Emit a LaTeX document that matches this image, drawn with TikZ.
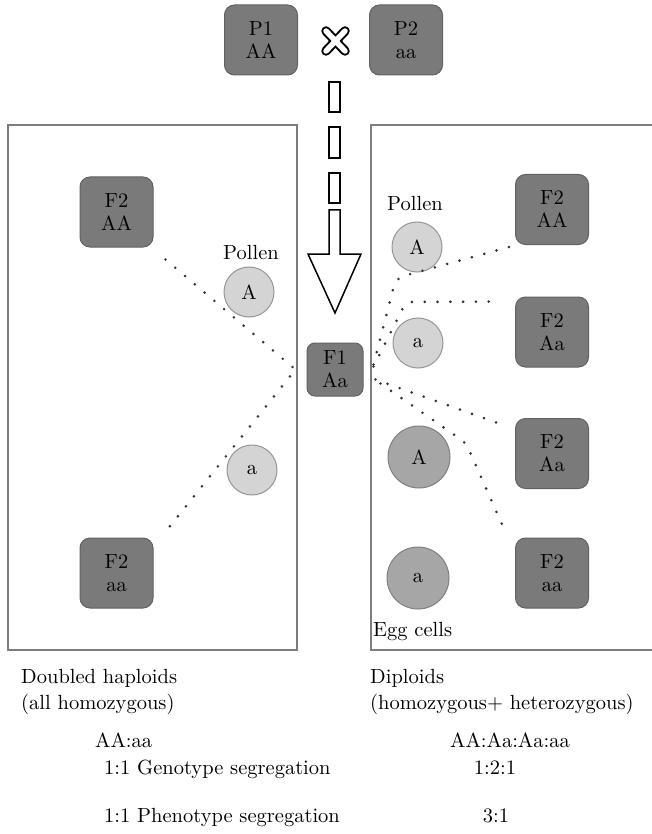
\documentclass[tikz,border=0pt]{standalone}
\usepackage{fontspec}
\setmainfont{lmroman10-regular.otf}
\usetikzlibrary{calc}
\definecolor{boxfill}{RGB}{122,122,122}
\definecolor{boxline}{RGB}{98,98,98}
\definecolor{polfill}{RGB}{212,212,212}
\definecolor{polline}{RGB}{150,150,150}
\definecolor{eggfill}{RGB}{166,166,166}
\definecolor{eggline}{RGB}{128,128,128}
\definecolor{frameline}{RGB}{125,125,125}
\definecolor{dotcol}{RGB}{50,50,50}
\begin{document}
\begin{tikzpicture}[x=1pt,y=-1pt,
  every node/.style={font=\fontsize{20.5}{23}\selectfont, inner sep=0pt},
  gbox/.style={draw=boxline, line width=1pt, fill=boxfill, rounded corners=10pt,
     minimum width=73pt, minimum height=70pt, align=center},
  fbox/.style={gbox, minimum width=56pt, minimum height=53pt, rounded corners=8pt},
  pollen/.style={circle, draw=polline, line width=1pt, fill=polfill, minimum size=50pt},
  egg/.style={circle, draw=eggline, line width=1pt, fill=eggfill, minimum size=62pt},
  frame/.style={draw=frameline, line width=1.4pt},
  dotline/.style={draw=dotcol, line width=2.9pt, line cap=round, dash pattern=on 0pt off 12.8pt},
  outl/.style={draw=black, line width=1.5pt, fill=white},
  lbl/.style={anchor=base west}
]
\useasboundingbox (0,0) rectangle (651,834);
\fill[white] (0,0) rectangle (651,834);

% frames
\draw[frame] (8,125) rectangle (297,650);
\draw[frame] (371,125) rectangle (680,650);

% parents
\node[gbox] (p1) at (261,40) {P1\\AA};
\node[gbox] (p2) at (406,40) {P2\\aa};
% cross symbol
\coordinate (x1) at (326,31);
\coordinate (x2) at (345,51);
\coordinate (x3) at (345,31);
\coordinate (x4) at (326,51);
\draw[black, line width=9.5pt, line cap=round] (x1) -- (x2) (x3) -- (x4);
\draw[white, line width=5.5pt, line cap=round] (x1) -- (x2) (x3) -- (x4);

% dashed hollow arrow
\draw[outl] (329,82) rectangle (340,112);
\draw[outl] (329,127) rectangle (340,158);
\draw[outl] (329,173) rectangle (340,203);
\draw[outl, line join=miter] (329,210) -- (340,210) -- (340,254) -- (361,254) -- (335,313) -- (308,254) -- (329,254) -- cycle;

% F1
\node[fbox] (f1) at (335,369.5) {F1\\Aa};

% left side
\node[gbox] (lAA) at (116.5,212) {F2\\AA};
\node[gbox] (laa) at (116.5,573) {F2\\aa};
\node[pollen] (lpA) at (249,292) {A};
\node[pollen] (lpa) at (252,470) {a};
\node[anchor=base] (lpol) at (251,259) {Pollen};

% right side
\node[lbl] (rpol) at (387,211) {Pollen};
\node[pollen] (rpA) at (417,247) {A};
\node[pollen] (rpa) at (418,343) {a};
\node[egg] (reA) at (419,457) {A};
\node[egg] (rea) at (418,578) {a};
\node[lbl] (egl) at (373,636) {Egg cells};
\node[gbox] (rAA) at (552,209.5) {F2\\AA};
\node[gbox] (rAa1) at (552,332) {F2\\Aa};
\node[gbox] (rAa2) at (552,453.5) {F2\\Aa};
\node[gbox] (raa) at (552,573) {F2\\aa};

% connector end points
\coordinate (fL) at ($(f1.west)+(-11,0)$);
\coordinate (eLAA) at ($(lAA.south east)+(12,12)$);
\coordinate (eLaa) at ($(laa.north east)+(9,-2)$);
\coordinate (fR1) at ($(f1.east)+(10,-5)$);
\coordinate (fR2) at ($(f1.east)+(10,-3)$);
\coordinate (fR3) at ($(f1.east)+(12,10)$);
\coordinate (fR4) at ($(f1.east)+(17,14)$);
\coordinate (eRAA) at ($(rAA.west)+(-4,37)$);
\coordinate (eRAa1) at ($(rAa1.north west)+(-14,5)$);
\coordinate (eRAa2) at ($(rAa2.north west)+(-9,8)$);
\coordinate (eRaa) at ($(raa.north west)+(-9,-4)$);

% dotted connectors
\draw[dotline] (eLAA) -- (fL) -- (eLaa);
\draw[dotline, rounded corners=8pt] (fR1) -- (396,278) -- (eRAA);
\draw[dotline, rounded corners=6pt] (fR2) -- (406,302) -- (eRAa1);
\draw[dotline] (fR3) -- (eRAa2);
\draw[dotline, rounded corners=6pt] (fR4) -- (466,443) -- (eRaa);

% bottom texts
\node[lbl] (t1) at (21,683) {Doubled haploids};
\node[lbl] (t2) at (21,709) {(all homozygous)};
\node[lbl] (t3) at (95,747) {AA:aa};
\node[lbl] (t4) at (104,774) {1:1 Genotype segregation};
\node[lbl] (t5) at (104,822) {1:1 Phenotype segregation};
\node[lbl] (t6) at (370,683) {Diploids};
\node[lbl] (t7) at (370,709) {(homozygous+ heterozygous)};
\node[anchor=base] (t8) at (510,747) {AA:Aa:Aa:aa};
\node[anchor=base] (t9) at (495,774) {1:2:1};
\node[anchor=base] (t10) at (496,822) {3:1};
\end{tikzpicture}
\end{document}
